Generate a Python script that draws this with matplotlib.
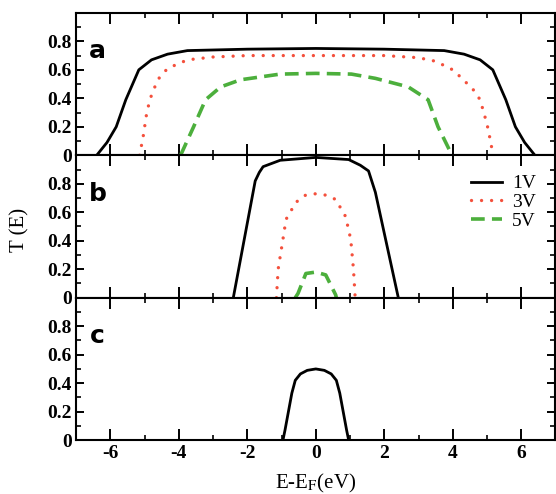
import matplotlib
matplotlib.use("Agg")
import matplotlib.pyplot as plt
from matplotlib.ticker import MultipleLocator, FuncFormatter

plt.rcParams["font.family"] = ["Liberation Serif", "DejaVu Serif"]
plt.rcParams["mathtext.fontset"] = "stix"

# transmission curves T(E) for the three panels, bias 1V / 3V / 5V
e_a_1v = [-6.4, -6.1, -5.83, -5.55, -5.17, -4.8, -4.33, -3.75, -2.0, 0.0, 2.0, 3.75, 4.33, 4.8, 5.17, 5.55, 5.83, 6.1, 6.4]
t_a_1v = [0.0, 0.09, 0.2, 0.39, 0.6, 0.67, 0.71, 0.735, 0.745, 0.75, 0.745, 0.735, 0.71, 0.67, 0.6, 0.39, 0.2, 0.09, 0.0]
e_a_3v = [-5.15, -5.05, -4.95, -4.85, -4.62, -4.33, -3.75, -3.0, -2.0, 0.0, 2.0, 3.0, 3.5, 4.0, 4.27, 4.6, 4.8, 5.0, 5.12, 5.17]
t_a_3v = [0.0, 0.12, 0.28, 0.39, 0.53, 0.61, 0.67, 0.69, 0.70, 0.70, 0.70, 0.685, 0.66, 0.6, 0.54, 0.46, 0.39, 0.22, 0.08, 0.0]
e_a_5v = [-3.95, -3.57, -3.22, -2.78, -2.2, -1.04, 0.0, 1.04, 1.74, 2.7, 3.28, 3.57, 3.98]
t_a_5v = [0.0, 0.2, 0.39, 0.48, 0.53, 0.57, 0.575, 0.57, 0.54, 0.48, 0.39, 0.2, 0.0]

e_b_1v = [-2.41, -1.77, -1.65, -1.54, -1.04, 0.0, 0.96, 1.3, 1.54, 1.74, 2.41]
t_b_1v = [0.0, 0.82, 0.88, 0.92, 0.965, 0.985, 0.97, 0.93, 0.89, 0.74, 0.0]
e_b_3v = [-1.15, -1.1, -0.96, -0.87, -0.58, -0.3, 0.0, 0.3, 0.58, 0.87, 1.02, 1.1, 1.15]
t_b_3v = [0.0, 0.2, 0.41, 0.55, 0.67, 0.72, 0.73, 0.72, 0.69, 0.57, 0.41, 0.2, 0.0]
e_b_5v = [-0.6, -0.52, -0.29, 0.0, 0.29, 0.58, 0.6]
t_b_5v = [0.0, 0.03, 0.17, 0.18, 0.16, 0.02, 0.0]

e_c_1v = [-0.96, -0.9, -0.8, -0.7, -0.6, -0.45, -0.25, 0.0, 0.25, 0.45, 0.6, 0.7, 0.8, 0.9, 0.96]
t_c_1v = [0.0, 0.07, 0.2, 0.33, 0.42, 0.465, 0.49, 0.50, 0.49, 0.465, 0.42, 0.33, 0.2, 0.07, 0.0]

panel_labels = ["a", "b", "c"]
bias_labels = ["1V", "3V", "5V"]

RED = "#f4503c"
GREEN = "#4caf3c"

s1 = dict(color="black", lw=2.0, solid_joinstyle="round")
s3 = dict(color=RED, lw=2.4, dashes=(0.01, 3.0), dash_capstyle="round")
s5 = dict(color=GREEN, lw=2.6, dashes=(3.8, 2.0))

fig, axes = plt.subplots(3, 1, figsize=(5.56, 4.94), dpi=100, sharex=True)
fig.subplots_adjust(left=0.137, right=0.999, top=0.974, bottom=0.109, hspace=0)

ax_a, ax_b, ax_c = axes
ax_a.plot(e_a_1v, t_a_1v, **s1)
ax_a.plot(e_a_3v, t_a_3v, **s3)
ax_a.plot(e_a_5v, t_a_5v, **s5)

ax_b.plot(e_b_1v, t_b_1v, label=bias_labels[0], **s1)
ax_b.plot(e_b_3v, t_b_3v, label=bias_labels[1], **s3)
ax_b.plot(e_b_5v, t_b_5v, label=bias_labels[2], **s5)

ax_c.plot(e_c_1v, t_c_1v, **s1)

fmt = FuncFormatter(lambda v, _: "0" if abs(v) < 1e-9 else f"{v:g}")
for ax, lab in zip(axes, panel_labels):
    ax.set_xlim(-7, 7)
    ax.set_ylim(0, 1.0)
    ax.xaxis.set_major_locator(MultipleLocator(2))
    ax.xaxis.set_minor_locator(MultipleLocator(1))
    ax.set_yticks([0, 0.2, 0.4, 0.6, 0.8])
    ax.yaxis.set_minor_locator(MultipleLocator(0.1))
    ax.yaxis.set_major_formatter(fmt)
    ax.tick_params(axis="x", which="major", direction="in", top=True, bottom=True, length=8, width=1.4)
    ax.tick_params(axis="x", which="minor", direction="in", top=True, bottom=True, length=3.6, width=1.2)
    ax.tick_params(axis="y", which="major", direction="in", left=True, right=True, length=5.8, width=1.4,
                   labelsize=14, pad=3)
    ax.tick_params(axis="y", which="minor", direction="in", left=True, right=True, length=3.6, width=1.2)
    for sp in ax.spines.values():
        sp.set_linewidth(1.5)
    for t in ax.get_yticklabels():
        t.set_fontweight("bold")
    ax.text(-6.37, 0.73, lab, fontsize=18, fontweight="bold", family="DejaVu Sans",
            ha="center", va="center")

ax_c.tick_params(axis="x", labelsize=14)
ax_c.xaxis.set_major_formatter(FuncFormatter(lambda v, _: f"{v:g}"))
for t in ax_c.get_xticklabels():
    t.set_fontweight("bold")

ax_b.legend(loc="upper right", frameon=False, fontsize=14, handlelength=1.6,
            handletextpad=0.5, labelspacing=0.05, borderaxespad=0.6)

fig.text(0.036, 0.534, "T (E)", rotation=90, fontsize=15, ha="center", va="center")
fig.text(0.568, 0.022, "E-E$_\\mathrm{F}$(eV)", fontsize=15, ha="center", va="center")

fig.savefig("out.png", dpi=100)
